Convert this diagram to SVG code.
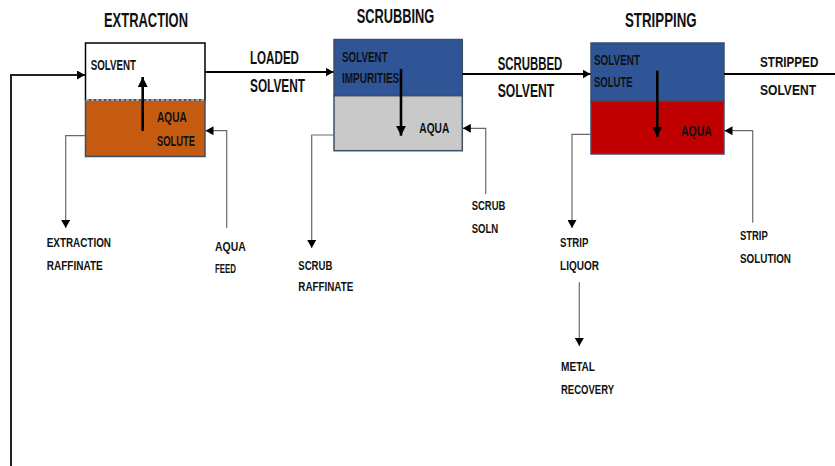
<svg xmlns="http://www.w3.org/2000/svg" width="835" height="466" viewBox="0 0 835 466">
<style>
text{font-family:"Liberation Sans",Arial,sans-serif;font-weight:bold;fill:#111}
.t{font-size:20px}
.f{font-size:17.5px}
.fr{font-size:15px}
.b{font-size:14.5px}
.s{font-size:13.5px}
.main{fill:none;stroke:#000;stroke-width:2}
.side{fill:none;stroke:#6a6a6a;stroke-width:1.2}
.inner{fill:none;stroke:#000;stroke-width:2.6}
</style>
<defs>
<marker id="ah" markerUnits="userSpaceOnUse" markerWidth="9" markerHeight="9" refX="8" refY="4.5" orient="auto"><path d="M0,0 L8,4.5 L0,9 z" fill="#000"/></marker>
<marker id="ahb" markerUnits="userSpaceOnUse" markerWidth="11" markerHeight="10" refX="10" refY="5" orient="auto"><path d="M0,0 L10,5 L0,10 z" fill="#000"/></marker>
</defs>
<g id="extraction">
<rect x="85.5" y="43" width="119.5" height="57" fill="#fff" stroke="#000" stroke-width="1.5"/>
<rect x="85.5" y="100" width="119.5" height="56.5" fill="#C55A11" stroke="#3e4f63" stroke-width="1.5"/>
<line x1="86" y1="100" x2="204.5" y2="100" stroke="#bbb" stroke-width="1.5" stroke-dasharray="3,2"/>
<text class="t" x="104" y="26.7" textLength="84" lengthAdjust="spacingAndGlyphs">EXTRACTION</text>
<text class="b" x="90.7" y="70" textLength="45.3" lengthAdjust="spacingAndGlyphs">SOLVENT</text>
<text class="b" x="157" y="122" textLength="29.7" lengthAdjust="spacingAndGlyphs">AQUA</text>
<text class="b" x="157" y="145.6" textLength="38" lengthAdjust="spacingAndGlyphs">SOLUTE</text>
<line class="inner" x1="142.7" y1="131" x2="142.7" y2="77" marker-end="url(#ahb)"/>
</g>
<g id="scrubbing">
<rect x="334" y="39.5" width="128.3" height="56.2" fill="#2F5597" stroke="#3e4f63" stroke-width="1.5"/>
<rect x="334" y="95.7" width="128.3" height="55" fill="#C9C9C9" stroke="#3e4f63" stroke-width="1.5"/>
<text class="t" x="356.7" y="23.3" textLength="77.6" lengthAdjust="spacingAndGlyphs">SCRUBBING</text>
<text class="b" x="342" y="61.7" textLength="45.7" lengthAdjust="spacingAndGlyphs">SOLVENT</text>
<text class="b" x="342" y="83.3" textLength="57.3" lengthAdjust="spacingAndGlyphs">IMPURITIES</text>
<text class="b" x="419.3" y="133.3" textLength="30" lengthAdjust="spacingAndGlyphs">AQUA</text>
<line class="inner" x1="401" y1="69" x2="401" y2="135.7" marker-end="url(#ahb)"/>
</g>
<g id="stripping">
<rect x="591" y="43" width="133" height="58" fill="#2F5597" stroke="#3e4f63" stroke-width="1.5"/>
<rect x="591" y="101" width="133" height="53" fill="#C00000" stroke="#3e4f63" stroke-width="1.5"/>
<text class="t" x="625" y="26.7" textLength="71.7" lengthAdjust="spacingAndGlyphs">STRIPPING</text>
<text class="b" x="594" y="65" textLength="46" lengthAdjust="spacingAndGlyphs">SOLVENT</text>
<text class="b" x="594" y="87.3" textLength="38.7" lengthAdjust="spacingAndGlyphs">SOLUTE</text>
<text class="b" x="681" y="136" textLength="30.7" lengthAdjust="spacingAndGlyphs">AQUA</text>
<line class="inner" x1="657.3" y1="70.7" x2="657.3" y2="136.7" marker-end="url(#ahb)"/>
</g>
<g id="connectors">
<polyline points="11,466 11,75 85,75" fill="none" stroke="#222" stroke-width="2" marker-end="url(#ah)"/>
<line class="main" x1="205" y1="72" x2="333.5" y2="72" marker-end="url(#ah)"/>
<line class="main" x1="462.3" y1="74" x2="590.5" y2="74" marker-end="url(#ah)"/>
<line class="main" x1="724" y1="74" x2="835" y2="74"/>
<polyline class="side" points="85,135.7 65.7,135.7 65.7,228" marker-end="url(#ah)"/>
<polyline class="side" points="226.7,228 226.7,130.7 205.5,130.7" marker-end="url(#ah)"/>
<polyline class="side" points="334,135 311.7,135 311.7,248" marker-end="url(#ah)"/>
<polyline class="side" points="485.7,194 485.7,128.3 462.8,128.3" marker-end="url(#ah)"/>
<polyline class="side" points="591,134.3 572,134.3 572,228" marker-end="url(#ah)"/>
<line class="side" x1="579.3" y1="282.3" x2="579.3" y2="346" marker-end="url(#ah)"/>
<polyline class="side" points="752.7,222.7 752.7,130.7 724.5,130.7" marker-end="url(#ah)"/>
</g>
<g id="labels">
<text class="f" x="250" y="64" textLength="49" lengthAdjust="spacingAndGlyphs">LOADED</text>
<text class="f" x="250" y="92" textLength="55" lengthAdjust="spacingAndGlyphs">SOLVENT</text>
<text class="f" x="497.7" y="70" textLength="64.6" lengthAdjust="spacingAndGlyphs">SCRUBBED</text>
<text class="f" x="497.7" y="96.7" textLength="56.6" lengthAdjust="spacingAndGlyphs">SOLVENT</text>
<text class="fr" x="760" y="66.7" textLength="58.3" lengthAdjust="spacingAndGlyphs">STRIPPED</text>
<text class="fr" x="760" y="95" textLength="56" lengthAdjust="spacingAndGlyphs">SOLVENT</text>
<text class="s" x="46.7" y="247" textLength="64.3" lengthAdjust="spacingAndGlyphs">EXTRACTION</text>
<text class="s" x="46.7" y="270" textLength="56" lengthAdjust="spacingAndGlyphs">RAFFINATE</text>
<text class="s" x="215" y="251" textLength="30.7" lengthAdjust="spacingAndGlyphs">AQUA</text>
<text class="s" x="215" y="272.7" textLength="21" lengthAdjust="spacingAndGlyphs">FEED</text>
<text class="s" x="298.3" y="270" textLength="34" lengthAdjust="spacingAndGlyphs">SCRUB</text>
<text class="s" x="298.3" y="290.7" textLength="55" lengthAdjust="spacingAndGlyphs">RAFFINATE</text>
<text class="s" x="471.7" y="210" textLength="33.6" lengthAdjust="spacingAndGlyphs">SCRUB</text>
<text class="s" x="471.7" y="233" textLength="26.6" lengthAdjust="spacingAndGlyphs">SOLN</text>
<text class="s" x="560" y="246.7" textLength="28.3" lengthAdjust="spacingAndGlyphs">STRIP</text>
<text class="s" x="560" y="270" textLength="39" lengthAdjust="spacingAndGlyphs">LIQUOR</text>
<text class="s" x="561" y="370.7" textLength="34" lengthAdjust="spacingAndGlyphs">METAL</text>
<text class="s" x="561" y="394" textLength="53" lengthAdjust="spacingAndGlyphs">RECOVERY</text>
<text class="s" x="740" y="240" textLength="27.7" lengthAdjust="spacingAndGlyphs">STRIP</text>
<text class="s" x="740" y="262.7" textLength="51" lengthAdjust="spacingAndGlyphs">SOLUTION</text>
</g>
</svg>
